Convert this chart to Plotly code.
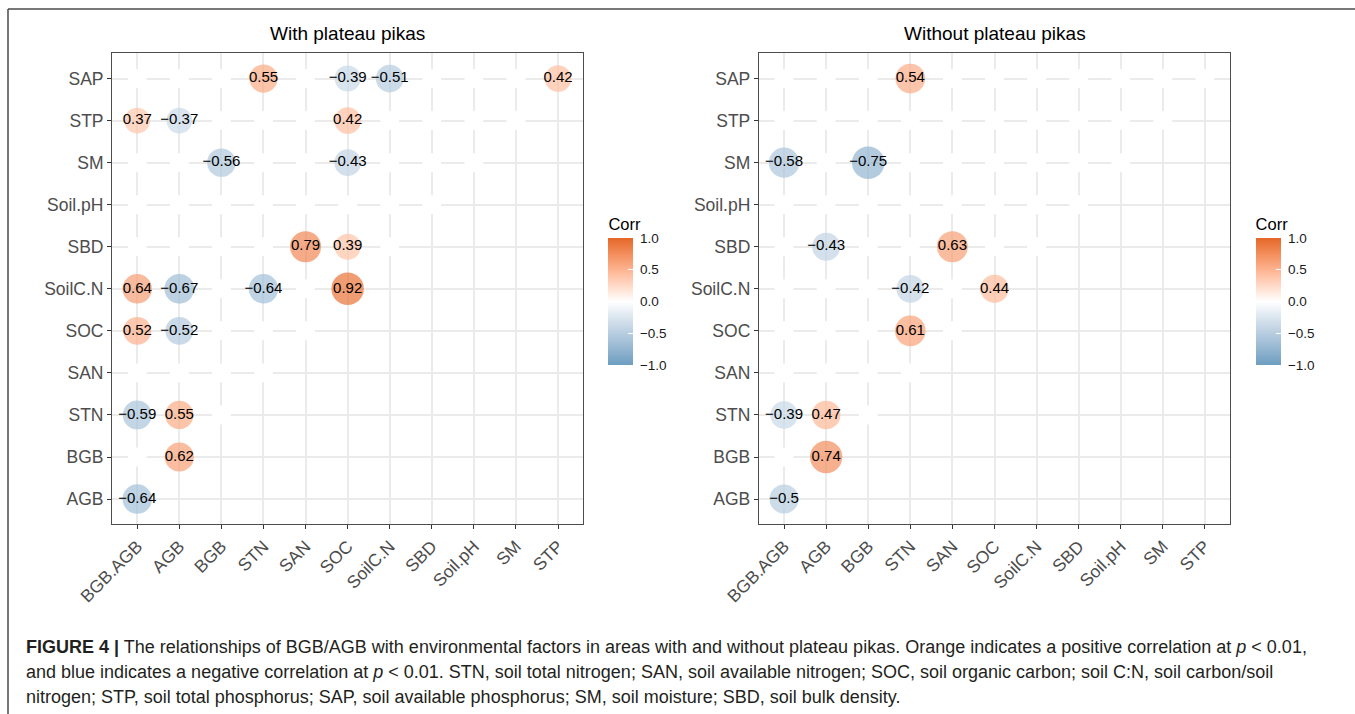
import numpy as np
import plotly.graph_objects as go

W, H = 1355, 714
FONT = "Liberation Sans, Arial, Helvetica, sans-serif"

# Variable order of the correlation matrix
variables = ["BGB.AGB", "AGB", "BGB", "STN", "SAN", "SOC", "SoilC.N",
             "SBD", "Soil.pH", "SM", "STP", "SAP"]
x_labels = variables[:-1]          # columns, left to right
y_labels = variables[1:]           # rows, bottom to top

# Significant correlations (p < 0.01): row variable, column variable, r
with_rows = ["SAP", "SAP", "SAP", "SAP", "STP", "STP", "STP", "SM", "SM",
             "SBD", "SBD", "SoilC.N", "SoilC.N", "SoilC.N", "SoilC.N",
             "SOC", "SOC", "STN", "STN", "BGB", "AGB"]
with_cols = ["STN", "SOC", "SoilC.N", "STP", "BGB.AGB", "AGB", "SOC", "BGB", "SOC",
             "SAN", "SOC", "BGB.AGB", "AGB", "STN", "SOC",
             "BGB.AGB", "AGB", "BGB.AGB", "AGB", "AGB", "BGB.AGB"]
with_r = [0.55, -0.39, -0.51, 0.42, 0.37, -0.37, 0.42, -0.56, -0.43,
          0.79, 0.39, 0.64, -0.67, -0.64, 0.92,
          0.52, -0.52, -0.59, 0.55, 0.62, -0.64]

without_rows = ["SAP", "SM", "SM", "SBD", "SBD", "SoilC.N", "SoilC.N",
                "SOC", "STN", "STN", "BGB", "AGB"]
without_cols = ["STN", "BGB.AGB", "BGB", "AGB", "SAN", "STN", "SOC",
                "STN", "BGB.AGB", "AGB", "AGB", "BGB.AGB"]
without_r = [0.54, -0.58, -0.75, -0.43, 0.63, -0.42, 0.44,
             0.61, -0.39, 0.47, 0.74, -0.5]

panel_titles = ["With plateau pikas", "Without plateau pikas"]
legend_ticks = [-1.0, -0.5, 0.0, 0.5, 1.0]

caption_lines = [
    "<b>FIGURE 4 |</b> The relationships of BGB/AGB with environmental factors in areas "
    "with and without plateau pikas. Orange indicates a positive correlation at <i>p</i> &lt; 0.01,",
    "and blue indicates a negative correlation at <i>p</i> &lt; 0.01. STN, soil total nitrogen; "
    "SAN, soil available nitrogen; SOC, soil organic carbon; soil C:N, soil carbon/soil",
    "nitrogen; STP, soil total phosphorus; SAP, soil available phosphorus; SM, soil moisture; "
    "SBD, soil bulk density.",
]

# ---------- diverging colour ramp interpolated in CIELAB ----------
LOW, MID, HIGH = "#6D9EC1", "#FFFFFF", "#E46726"
WHITE_REF = np.array([0.95047, 1.0, 1.08883])
M_RGB2XYZ = np.array([[0.4124564, 0.3575761, 0.1804375],
                      [0.2126729, 0.7151522, 0.0721750],
                      [0.0193339, 0.1191920, 0.9503041]])
M_XYZ2RGB = np.linalg.inv(M_RGB2XYZ)


def hex_to_lab(h):
    rgb = np.array([int(h[i:i + 2], 16) for i in (1, 3, 5)]) / 255.0
    lin = np.where(rgb <= 0.04045, rgb / 12.92, ((rgb + 0.055) / 1.055) ** 2.4)
    xyz = M_RGB2XYZ @ lin / WHITE_REF
    f = np.where(xyz > 216 / 24389, np.cbrt(xyz), (24389 / 27 * xyz + 16) / 116)
    return np.array([116 * f[1] - 16, 500 * (f[0] - f[1]), 200 * (f[1] - f[2])])


def lab_to_hex(lab):
    L, a, b = lab
    fy = (L + 16) / 116
    fx = fy + a / 500
    fz = fy - b / 200
    f = np.array([fx, fy, fz])
    xyz = np.where(f ** 3 > 216 / 24389, f ** 3, (116 * f - 16) / (24389 / 27)) * WHITE_REF
    lin = M_XYZ2RGB @ xyz
    lin = np.clip(lin, 0, 1)
    rgb = np.where(lin <= 0.0031308, 12.92 * lin, 1.055 * lin ** (1 / 2.4) - 0.055)
    rgb = np.clip(np.round(rgb * 255), 0, 255).astype(int)
    return "#%02X%02X%02X" % tuple(rgb)


lab_low, lab_mid, lab_high = hex_to_lab(LOW), hex_to_lab(MID), hex_to_lab(HIGH)
colorscale = []
for t in np.linspace(0, 1, 41):
    if t <= 0.5:
        lab = lab_low + (lab_mid - lab_low) * (t / 0.5)
    else:
        lab = lab_mid + (lab_high - lab_mid) * ((t - 0.5) / 0.5)
    colorscale.append([float(t), lab_to_hex(lab)])


def fmt(r):
    return f"{r:g}".replace("-", "\u2212")


def circle_px(r, rmax):
    return 14 + 18.5 * np.sqrt(abs(r) / rmax)


# ---------- page geometry (pixels) ----------
def px_x(v):
    return v / W


def px_y(v):
    return 1 - v / H


panels = [
    dict(rows=with_rows, cols=with_cols, r=with_r, x0=112, x1=583.3, cb_x=608.4),
    dict(rows=without_rows, cols=without_cols, r=without_r, x0=758.8, x1=1230.2, cb_x=1255.6),
]
PLOT_TOP, PLOT_BOTTOM = 53.3, 524.3
CB_BOTTOM, CB_BAR, CB_TITLE, CB_W = 365, 128, 22, 25

fig = go.Figure()
layout_axes = {}
shapes = []

for k, p in enumerate(panels):
    sfx = "" if k == 0 else str(k + 1)
    xa, ya = "x" + sfx, "y" + sfx

    sig = set(zip(p["rows"], p["cols"]))
    # non-significant cells of the lower triangle are left blank
    bx, by = [], []
    for i, rv in enumerate(variables):
        for cv in variables[:i]:
            if (rv, cv) not in sig:
                bx.append(cv)
                by.append(rv)
    fig.add_trace(go.Scatter(
        x=bx, y=by, mode="markers", xaxis=xa, yaxis=ya,
        marker=dict(size=19, color="white", line=dict(width=0)),
        hoverinfo="skip", showlegend=False,
    ))

    rmax = max(abs(v) for v in p["r"])
    cb_len = CB_BAR + CB_TITLE
    fig.add_trace(go.Scatter(
        x=p["cols"], y=p["rows"], mode="markers+text", xaxis=xa, yaxis=ya,
        text=[fmt(v) for v in p["r"]], textposition="middle center",
        textfont=dict(family=FONT, size=15, color="black"),
        marker=dict(
            size=[circle_px(v, rmax) for v in p["r"]],
            color=p["r"], cmin=-1, cmax=1, colorscale=colorscale,
            line=dict(width=0), showscale=True,
            colorbar=dict(
                x=px_x(p["cb_x"]), xanchor="left",
                y=px_y(CB_BOTTOM - cb_len / 2), yanchor="middle",
                len=cb_len, lenmode="pixels", thickness=CB_W, thicknessmode="pixels",
                xpad=0, ypad=0, outlinewidth=0,
                tickvals=legend_ticks,
                ticktext=["\u00a0" + f"{v:.1f}".replace("-", "\u2212") for v in legend_ticks],
                ticks="inside", ticklen=5, tickwidth=1, tickcolor="white",
                tickfont=dict(family=FONT, size=13.5, color="#1A1A1A"),
                title=dict(text="Corr", side="top", font=dict(family=FONT, size=16.5, color="black")),
            ),
        ),
        hoverinfo="skip", showlegend=False,
    ))

    # white tick marks on the left edge of the colour bar
    for t in legend_ticks:
        yy = px_y(CB_BOTTOM - (t + 1) / 2 * CB_BAR)
        shapes.append(dict(type="line", xref="paper", yref="paper",
                           x0=px_x(p["cb_x"]), x1=px_x(p["cb_x"] + 5), y0=yy, y1=yy,
                           line=dict(color="white", width=1)))

    common = dict(
        type="category", showgrid=True, gridcolor="#EBEBEB", gridwidth=1.5,
        showline=True, mirror=True, linecolor="#4D4D4D", linewidth=1,
        ticks="outside", ticklen=4, tickwidth=1, tickcolor="#333333",
        tickfont=dict(family=FONT, size=17.5, color="#4D4D4D"),
        zeroline=False, fixedrange=True, automargin=False,
        range=[-0.6, 10.6], categoryorder="array",
    )
    layout_axes["xaxis" + sfx] = dict(common, domain=[px_x(p["x0"]), px_x(p["x1"])],
                                      categoryarray=x_labels, tickangle=-45, anchor=ya)
    layout_axes["yaxis" + sfx] = dict(common, domain=[px_y(PLOT_BOTTOM), px_y(PLOT_TOP)],
                                      categoryarray=y_labels, anchor=xa)

annotations = []
for k, p in enumerate(panels):
    annotations.append(dict(
        text=panel_titles[k], xref="paper", yref="paper",
        x=px_x((p["x0"] + p["x1"]) / 2), y=px_y(33), xanchor="center", yanchor="middle",
        showarrow=False, font=dict(family=FONT, size=19, color="black"),
    ))
for line, yc in zip(caption_lines, [647, 672, 697]):
    annotations.append(dict(
        text=line, xref="paper", yref="paper", x=px_x(24), y=px_y(yc),
        xanchor="left", yanchor="middle", showarrow=False, align="left",
        font=dict(family=FONT, size=18, color="#231F20"),
    ))

shapes += [
    dict(type="line", xref="paper", yref="paper", x0=px_x(8), x1=1, y0=px_y(9), y1=px_y(9),
         line=dict(color="#4A4A4A", width=1.5)),
    dict(type="line", xref="paper", yref="paper", x0=px_x(8), x1=px_x(8), y0=px_y(9), y1=0,
         line=dict(color="#4A4A4A", width=1.5)),
]

fig.update_layout(
    width=W, height=H, autosize=False,
    margin=dict(l=0, r=0, t=0, b=0, pad=0, autoexpand=False),
    paper_bgcolor="white", plot_bgcolor="white",
    annotations=annotations, shapes=shapes,
    **layout_axes,
)

fig.write_html("out.html")
